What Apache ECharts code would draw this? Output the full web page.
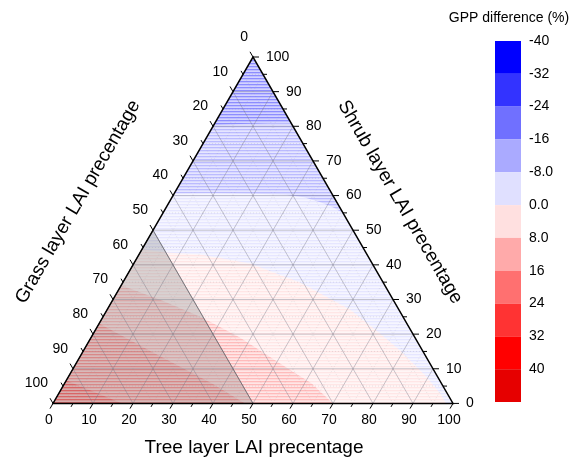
<!DOCTYPE html>
<html><head><meta charset="utf-8">
<script src="https://cdn.jsdelivr.net/npm/echarts@6/dist/echarts.min.js"></script>
<style>html,body{margin:0;padding:0;background:#fff}#c{width:571px;height:459px}</style>
</head><body><div id="c"></div>
<script>
// ---------- data ----------
const majorTicks = [0,10,20,30,40,50,60,70,80,90,100];
const minorTicks = [5,15,25,35,45,55,65,75,85,95];
const treeTickLabels  = ['0','10','20','30','40','50','60','70','80','90','100'];
const shrubTickLabels = ['0','10','20','30','40','50','60','70','80','90','100'];
const grassTickLabels = ['0','10','20','30','40','50','60','70','80','90','100'];
const levels = [-40,-32,-24,-16,-8,0,8,16,24,32,40,48];
const levelColors = ['#0000FF','#3333FF','#7070FF','#AAAAFF','#E0E0FF','#FFE0E0','#FFAAAA','#FF7070','#FF3333','#FF0000','#E60000'];
const cbLabels = ['-40','-32','-24','-16','-8.0','0.0','8.0','16','24','32','40'];
// triangle corners as [tree %, shrub %]
const corners = [[0,0],[100,0],[0,100]];
// contour boundaries, [tree %, shrub %]
const bndM16 = [[0,80.3],[5,80.6],[10,80.8],[15,81],[19,81]];
const bndM8  = [[0,60.6],[10,60.7],[20,60.5],[28,60.2],[33,59.5],[38,58],[42,56.5],[45.2,54.8]];
const bnd0   = [[0,44.5],[6.4,43.6],[15.25,43.0],[29.05,40.4],[44.3,34.9],[60.7,27.1],[71.65,20.2],[79.1,15.3],[88.95,8.1],[95.3,2.9],[98.25,0]];
const bnd8   = [[0,34.1],[12.4,29.7],[24.85,24.8],[37.2,19.05],[51,11.55],[61.8,5.77],[70,0]];
const bnd16  = [[0,23.1],[18.3,14.4],[36.9,5.77],[48,0]];
const bnd24  = [[0,6.6],[8.9,3.2],[17.25,0]];
// grass >= 50 shaded zone
const grassZone = [[0,0],[50,0],[0,50]];

// regions (painter order) : level index + polygon
const regions = [
  {lev:4, pts: corners},
  {lev:3, pts: bndM8.concat([[0,100]])},
  {lev:2, pts: bndM16.concat([[0,100]])},
  {lev:5, pts: bnd0.concat([[0,0]])},
  {lev:6, pts: bnd8.concat([[0,0]])},
  {lev:7, pts: bnd16.concat([[0,0]])},
  {lev:8, pts: bnd24.concat([[0,0]])}
];

// ---------- helpers ----------
const SQ = Math.sqrt(3)/2;
function tc(p){ return [p[0] + p[1]/2, p[1]*SQ]; }
function mixW(hex, a){
  const r=parseInt(hex.substr(1,2),16), g=parseInt(hex.substr(3,2),16), b=parseInt(hex.substr(5,2),16);
  const m=v=>Math.round(255 + (v-255)*a);
  return 'rgb('+m(r)+','+m(g)+','+m(b)+')';
}
const stripeA = [0.8,0.45,0.3];
function stripe(hex){
  const c=document.createElement('canvas'); c.width=1; c.height=stripeA.length;
  const ctx=c.getContext('2d');
  stripeA.forEach((a,i)=>{ ctx.fillStyle=mixW(hex,a); ctx.fillRect(0,i,1,1); });
  return {image:c, repeat:'repeat'};
}
const FONT = 'Arial, "Liberation Sans", sans-serif';
function ln(a,b,style){ return {type:'line', shape:{x1:a[0],y1:a[1],x2:b[0],y2:b[1]}, style:style}; }
function txt(x,y,t,align,va,size){ return {type:'text', x:x, y:y, style:{text:t, fill:'#000', fontSize:size||14, fontFamily:FONT, align:align, verticalAlign:va}}; }

const chart = echarts.init(document.getElementById('c'), null, {renderer:'canvas'});
const majorStyle = {stroke:'rgba(110,110,125,0.38)', lineWidth:1};
const minorStyle = {stroke:'rgba(140,140,150,0.25)', lineWidth:0.8, lineDash:[1,2]};

const option = {
  animation:false,
  backgroundColor:'#fff',
  grid:[
    {left:53, top:57, width:400, height:400*SQ, outerBoundsMode:'none'},
    {left:495, top:41, width:26, height:361, outerBoundsMode:'none'}
  ],
  xAxis:[
    {gridIndex:0, type:'value', min:0, max:100, show:false},
    {gridIndex:1, type:'value', min:0, max:1, show:false}
  ],
  yAxis:[
    {gridIndex:0, type:'value', min:0, max:100*SQ, show:false},
    {gridIndex:1, type:'value', min:-40, max:48, interval:8, inverse:true, position:'right',
     axisLine:{show:false}, axisTick:{show:false}, splitLine:{show:false},
     axisLabel:{show:true, margin:8, fontSize:14, fontFamily:FONT, color:'#000',
       formatter:v=>{ const i=Math.round((v+40)/8); return cbLabels[i]!==undefined?cbLabels[i]:''; }}}
  ],
  graphic:[
    {type:'text', x:254, y:448, style:{text:'Tree layer LAI precentage', fontSize:19, fontFamily:FONT, fill:'#000', align:'center', verticalAlign:'middle'}},
    {type:'text', x:78, y:202, rotation:Math.PI/3, style:{text:'Grass layer LAI precentage', fontSize:19, fontFamily:FONT, fill:'#000', align:'center', verticalAlign:'middle'}},
    {type:'text', x:400, y:202, rotation:-Math.PI/3, style:{text:'Shrub layer LAI precentage', fontSize:19, fontFamily:FONT, fill:'#000', align:'center', verticalAlign:'middle'}},
    {type:'text', x:509, y:18, style:{text:'GPP difference (%)', fontSize:14, fontFamily:FONT, fill:'#000', align:'center', verticalAlign:'middle'}}
  ],
  series:[
    { // contour bands
      type:'custom', xAxisIndex:0, yAxisIndex:0, z:1, silent:true,
      data: regions.map((r,i)=>[i,0]),
      renderItem:(params, api)=>{
        const r = regions[params.dataIndex];
        return {type:'polygon', shape:{points:r.pts.map(p=>api.coord(tc(p)))},
                style:{fill:stripe(levelColors[r.lev])}};
      }
    },
    { // grass>=50 gray zone
      type:'custom', xAxisIndex:0, yAxisIndex:0, z:2, silent:true,
      data:[[0,0]],
      renderItem:(params, api)=>({type:'polygon', shape:{points:grassZone.map(p=>api.coord(tc(p)))},
        style:{fill:'rgba(125,125,125,0.3)', stroke:'rgba(70,70,70,0.8)', lineWidth:0.8}})
    },
    { // grid lines
      type:'custom', xAxisIndex:0, yAxisIndex:0, z:3, silent:true,
      data: majorTicks.slice(1,-1).concat(minorTicks).map(v=>[v,0]),
      renderItem:(params, api)=>{
        const v = api.value(0);
        const st = (v%10===0) ? majorStyle : minorStyle;
        const c = p=>api.coord(tc(p));
        return {type:'group', children:[
          ln(c([v,0]), c([v,100-v]), st),          // constant tree
          ln(c([0,v]), c([100-v,v]), st),          // constant shrub
          ln(c([100-v,0]), c([0,100-v]), st)       // constant grass
        ]};
      }
    },
    { // frame
      type:'custom', xAxisIndex:0, yAxisIndex:0, z:4, silent:true,
      data:[[0,0]],
      renderItem:(params, api)=>({type:'polygon', shape:{points:corners.map(p=>api.coord(tc(p)))},
        style:{fill:'none', stroke:'#000', lineWidth:1.5}})
    },
    { // ticks and tick labels
      type:'custom', xAxisIndex:0, yAxisIndex:0, z:5, silent:true,
      data: majorTicks.concat(minorTicks).map(v=>[v,0]),
      renderItem:(params, api)=>{
        const v = api.value(0);
        const major = v%10===0;
        const L = major ? 6 : 4;
        const st = {stroke:'#000', lineWidth:1};
        const pb = api.coord(tc([v,0]));
        const pr = api.coord(tc([100-v,v]));
        const pl = api.coord(tc([0,100-v]));
        const ch = [
          ln(pb, [pb[0]-0.5*L, pb[1]+SQ*L], st),
          ln(pr, [pr[0]+L, pr[1]], st),
          ln(pl, [pl[0]-0.5*L, pl[1]-SQ*L], st)
        ];
        if (major) {
          const i = Math.round(v/10);
          ch.push(txt(pb[0]-4, pb[1]+17, treeTickLabels[i], 'center', 'middle'));
          ch.push(txt(pr[0]+13, pr[1], shrubTickLabels[i], 'left', 'middle'));
          ch.push(txt(pl[0]-5, pl[1]-20, grassTickLabels[i], 'right', 'middle'));
        }
        return {type:'group', children:ch};
      }
    },
    { // colour bar blocks
      type:'custom', xAxisIndex:1, yAxisIndex:1, z:2, silent:true,
      data: levelColors.map((c,i)=>[0, levels[i], levels[i+1]]),
      encode:{x:0, y:[1,2]},
      renderItem:(params, api)=>{
        const a = api.coord([0, api.value(1)]);
        const b = api.coord([1, api.value(2)]);
        return {type:'rect', shape:{x:a[0], y:Math.min(a[1],b[1]), width:b[0]-a[0], height:Math.abs(b[1]-a[1])},
                style:{fill:levelColors[params.dataIndex]}};
      }
    }
  ]
};
chart.setOption(option);
</script>
</body></html>
